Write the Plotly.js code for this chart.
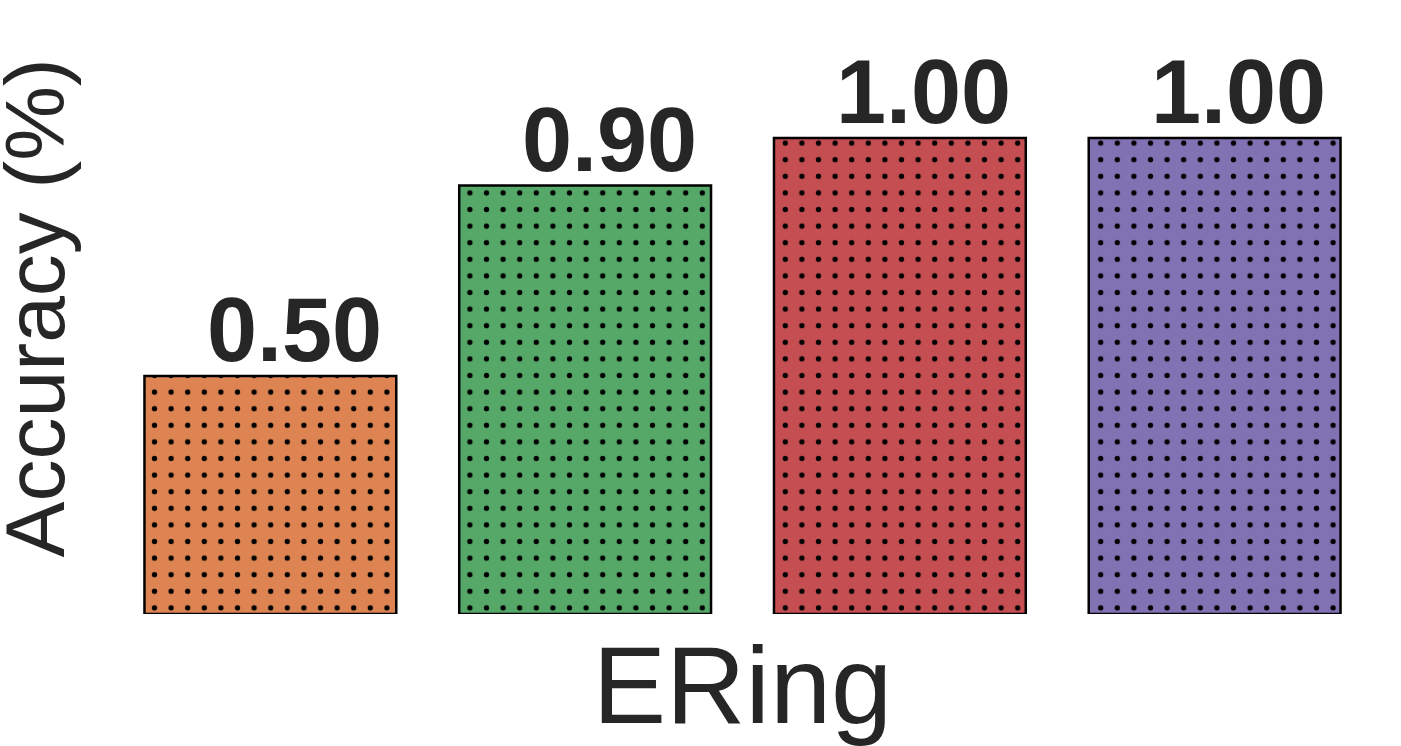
<!DOCTYPE html>
<html>
<head>
<meta charset="utf-8">
<script src="https://cdn.plot.ly/plotly-3.0.1.min.js"></script>
<style>
  html, body { margin: 0; padding: 0; background: #fff; }
  #plot { width: 1401px; height: 746px; }
</style>
</head>
<body>
<div id="plot"></div>
<script>
// bar data
let categories = ["A", "B", "C", "D"];
let accuracy = [0.50, 0.90, 1.00, 1.00];
let barColors = ["#DD8452", "#55A868", "#C44E52", "#8172B3"];
let datasetName = "ERing";
let yLabel = "Accuracy (%)";

let textColor = "#262626";
let fontFamily = "Liberation Sans, Arial, sans-serif";

// one trace per bar so each keeps its own fill under the dot hatch
let traces = categories.map((c, i) => ({
    type: "bar",
    x: [c],
    y: [accuracy[i]],
    width: 0.8,
    marker: {
        color: barColors[i],
        line: { color: "#000000", width: 2.5 },
        pattern: {
            shape: ".",
            size: 16.6,
            solidity: 0.08,
            fillmode: "overlay",
            fgcolor: "#000000",
            fgopacity: 1
        }
    },
    hoverinfo: "none",
    showlegend: false
}));

// value labels above the bars
let labels = categories.map((c, i) => ({
    x: c,
    y: accuracy[i],
    xref: "x",
    yref: "y",
    text: accuracy[i].toFixed(2),
    showarrow: false,
    xanchor: "center",
    yanchor: "bottom",
    xshift: 24,
    yshift: -6,
    font: { family: fontFamily, size: 90, color: textColor, weight: "bold" }
}));

// y title sits hard against the left edge, so place it by hand
labels.push({
    x: (34 - 112.5) / 1260,
    y: 0.5,
    xref: "paper",
    yref: "paper",
    text: yLabel,
    textangle: -90,
    showarrow: false,
    xanchor: "center",
    yanchor: "middle",
    font: { family: fontFamily, size: 84, color: textColor }
});

let layout = {
    width: 1401,
    height: 746,
    margin: { l: 112.5, r: 28.5, t: 2, b: 132 },
    paper_bgcolor: "#ffffff",
    plot_bgcolor: "#ffffff",
    barmode: "overlay",
    xaxis: {
        type: "category",
        range: [-0.5, 3.5],
        showticklabels: false,
        ticks: "",
        showgrid: false,
        zeroline: false,
        showline: false,
        title: { text: datasetName, font: { family: fontFamily, size: 110, color: textColor }, standoff: 32 }
    },
    yaxis: {
        range: [0, 612 / 476],
        showticklabels: false,
        ticks: "",
        showgrid: false,
        zeroline: false,
        showline: false
    },
    annotations: labels
};

Plotly.newPlot("plot", traces, layout, { staticPlot: true, displayModeBar: false });
</script>
</body>
</html>
